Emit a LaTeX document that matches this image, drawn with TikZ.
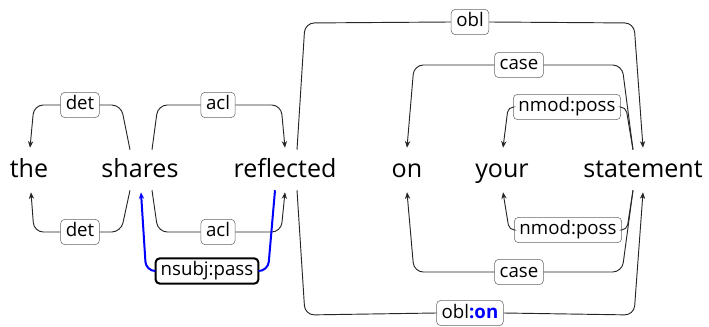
\documentclass[tikz,border=0pt]{standalone}
\usepackage{fontspec}
\setmainfont{Open Sans}
\usetikzlibrary{arrows.meta,calc}

\begin{document}
\begin{tikzpicture}[x=0.75pt,y=-0.75pt,
  palabra/.style={anchor=base,inner sep=0pt,text height=22.5pt,text depth=10.5pt,
    font=\fontsize{18.8}{22}\selectfont},
  etiq/.style={draw=black!60,fill=white,rounded corners=3pt,inner xsep=3.8pt,
    inner ysep=2.2pt,text height=11pt,text depth=3.5pt,font=\fontsize{14}{17}\selectfont},
  arco/.style={black!85,line width=0.7pt,rounded corners=7pt},
  >={Stealth[length=5pt,width=4pt]}]
  \useasboundingbox (0,0) rectangle (709,327);

  % Palabras de la frase
  \node[palabra] (the)       at (29,178)  {the};
  \node[palabra] (shares)    at (140,178) {shares};
  \node[palabra] (reflected) at (285,178) {reflected};
  \node[palabra] (on)        at (407,178) {on};
  \node[palabra] (your)      at (502,178) {your};
  \node[palabra] (statement) at (643,178) {statement};

  % Etiquetas de arriba (basicas)
  \node[etiq] (det-a)  at (80,105)  {det};
  \node[etiq] (acl-a)  at (218,105) {acl};
  \node[etiq] (obl-a)  at (470,22)  {obl};
  \node[etiq] (case-a) at (519,65)  {case};
  \node[etiq] (nmod-a) at (567,107) {nmod:poss};

  % Etiquetas de abajo (mejoradas)
  \node[etiq] (det-b)  at (80,232)  {det};
  \node[etiq] (acl-b)  at (218,232) {acl};
  \node[etiq,draw=black,line width=1.5pt] (nsubj) at (207,271) {nsubj:pass};
  \node[etiq] (nmod-b) at (568,230) {nmod:poss};
  \node[etiq] (case-b) at (519,272) {case};
  \node[etiq] (obl-b)  at (470,313) {obl{\color{blue}\bfseries :on}};

  % Arcos de arriba
  \draw[arco,->] ($(shares.north)+(-10,2)$) -- (121,105) -- (det-a.east)
    (det-a.west) -- (34,105) -- ($(the.north)+(1,0)$);
  \draw[arco,->] ($(shares.north)+(12,2)$) -- (158,105) -- (acl-a.west)
    (acl-a.east) -- (281,105) -- (reflected.north);
  \draw[arco,->] ($(reflected.north)+(12,2)$) -- (305,23) -- (obl-a.west)
    (obl-a.east) -- (634,23) -- (statement.north);
  \draw[arco,->] ($(statement.north)+(-10,2)$) -- (622,65) -- (case-a.east)
    (case-a.west) -- (414,65) -- (on.north);
  \draw[arco,rounded corners=4pt,->] ($(statement.north)+(-10,2)$)
    -- ($(nmod-a.east)+(5,0)$) -- (nmod-a.east)
    (nmod-a.west) -- ($(nmod-a.west)+(-5,0)$) -- ($(your.north)+(1,0)$);

  % Arcos de abajo
  \draw[arco,->] ($(shares.south)+(-10,-2)$) -- (121,232) -- (det-b.east)
    (det-b.west) -- (34,232) -- ($(the.south)+(2,0)$);
  \draw[arco,->] ($(shares.south)+(12,-2)$) -- (158,232) -- (acl-b.west)
    (acl-b.east) -- (281,232) -- (reflected.south);
  \draw[arco,blue,line width=1.5pt,->] ($(reflected.south)+(-10,-2)$) -- (268,271) -- (nsubj.east)
    (nsubj.west) -- (146,271) -- ($(shares.south)+(1,0)$);
  \draw[arco,rounded corners=4pt,->] ($(statement.south)+(-10,-2)$)
    -- ($(nmod-b.east)+(5,0)$) -- (nmod-b.east)
    (nmod-b.west) -- ($(nmod-b.west)+(-5,0)$) -- ($(your.south)+(1,0)$);
  \draw[arco,->] ($(statement.south)+(-10,-2)$) -- (622,272) -- (case-b.east)
    (case-b.west) -- (414,272) -- (on.south);
  \draw[arco,->] ($(reflected.south)+(12,-2)$) -- (305,315) -- (obl-b.west)
    (obl-b.east) -- (634,315) -- (statement.south);
\end{tikzpicture}
\end{document}
